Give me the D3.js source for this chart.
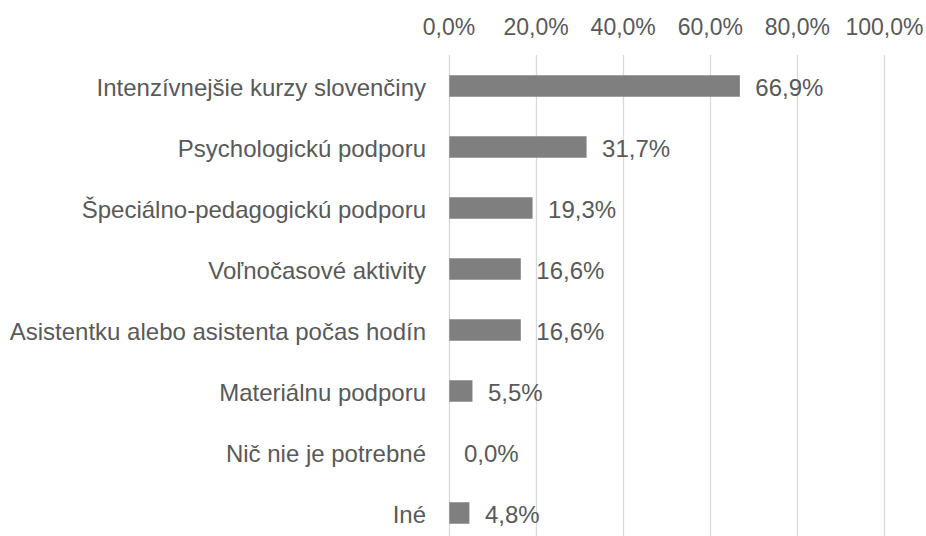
<!DOCTYPE html>
<html>
<head>
<meta charset="utf-8">
<script src="https://cdn.jsdelivr.net/npm/d3@7"></script>
<style>
  body { margin: 0; background: #fff; }
  svg text { font-family: "Liberation Sans", Arial, sans-serif; font-size: 24px; fill: #595959; }
</style>
</head>
<body>
<svg width="926" height="536"></svg>
<script>
// chart data
var categories = [
    "Intenzívnejšie kurzy slovenčiny",
    "Psychologickú podporu",
    "Špeciálno-pedagogickú podporu",
    "Voľnočasové aktivity",
    "Asistentku alebo asistenta počas hodín",
    "Materiálnu podporu",
    "Nič nie je potrebné",
    "Iné"
];
var values = [66.9, 31.7, 19.3, 16.6, 16.6, 5.5, 0.0, 4.8];
var tickValues = [0, 20, 40, 60, 80, 100];

drawBarChart();

function drawBarChart() {
    var svg = d3.select("svg");
    var fmt = function(v) { return v.toFixed(1).replace(".", ",") + "%"; };

    var x = d3.scaleLinear()
        .domain([0, 100])
        .range([448.5, 884]);

    var y = d3.scaleBand()
        .domain(categories)
        .range([55.5, 543.5])
        .paddingInner(0.648)
        .paddingOuter(0.324);

    // vertical gridlines
    svg.append("g").selectAll("line")
        .data(tickValues)
        .enter().append("line")
        .attr("x1", function(d) { return Math.round(x(d)) + 0.5; })
        .attr("x2", function(d) { return Math.round(x(d)) + 0.5; })
        .attr("y1", 55)
        .attr("y2", 536)
        .attr("stroke", "#d9d9d9")
        .attr("stroke-width", 1.3);

    // top axis labels
    var axis = d3.axisTop(x).tickValues(tickValues).tickFormat(fmt).tickSize(0).tickPadding(0);
    var ax = svg.append("g")
        .attr("transform", "translate(0,35)")
        .call(axis);
    ax.select(".domain").remove();
    ax.selectAll("text")
        .attr("dy", 0)
        .attr("y", 0)
        .attr("fill", "#595959")
        .style("font-size", "23px");

    var rows = categories.map(function(c, i) { return {name: c, value: values[i]}; });

    svg.append("g").selectAll("rect")
        .data(rows)
        .enter().append("rect")
        .attr("x", x(0) + 0.8)
        .attr("y", function(d) { return y(d.name); })
        .attr("width", function(d) { return Math.max(0, x(d.value) - x(0) - 0.8); })
        .attr("height", y.bandwidth())
        .attr("fill", "#7f7f7f");

    // category labels
    svg.append("g").selectAll("text")
        .data(rows)
        .enter().append("text")
        .attr("x", 426)
        .attr("y", function(d) { return y(d.name) + y.bandwidth() / 2 + 10; })
        .attr("text-anchor", "end")
        .text(function(d) { return d.name; });

    // value labels
    svg.append("g").selectAll("text")
        .data(rows)
        .enter().append("text")
        .attr("x", function(d) { return x(d.value) + 15.5; })
        .attr("y", function(d) { return y(d.name) + y.bandwidth() / 2 + 10; })
        .text(function(d) { return fmt(d.value); });
}
</script>
</body>
</html>
